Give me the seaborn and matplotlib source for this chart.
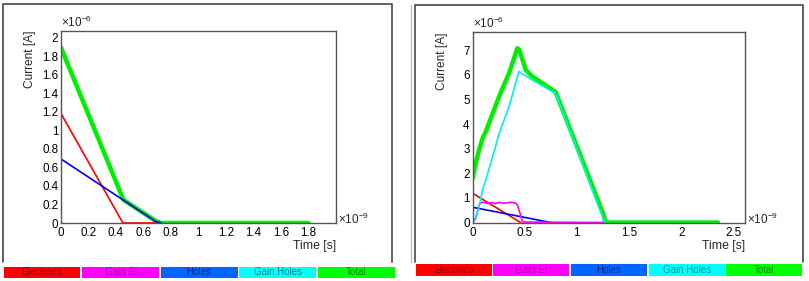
import matplotlib
matplotlib.use("Agg")
import numpy as np
import pandas as pd
import matplotlib.pyplot as plt
import seaborn as sns
from matplotlib.lines import Line2D
from matplotlib.patches import Rectangle
from matplotlib.ticker import MultipleLocator, FuncFormatter

# ---------------- data (time in 1e-9 s, current in 1e-6 A) ----------------
left_electrons_t = [0, 0.45, 0.72]
left_electrons_i = [1.18, 0.0, 0.0]
left_holes_t = [0, 0.69, 0.73]
left_holes_i = [0.69, 0.015, 0.0]
left_total_t = [0, 0.454, 0.69, 0.73, 1.8]
left_total_i = [1.89, 0.25, 0.02, 0.0, 0.0]

right_electrons_t = [0, 0.46]
right_electrons_i = [1.19, 0.0]
right_gainel_t = [0, 0.03, 0.07, 0.10, 0.14, 0.18, 0.22, 0.26, 0.29, 0.33, 0.37, 0.41, 0.43, 0.48, 1.25]
right_gainel_i = [0, 0.15, 0.80, 0.82, 0.78, 0.81, 0.77, 0.82, 0.78, 0.80, 0.82, 0.79, 0.72, 0.02, 0.0]
right_holes_t = [0, 0.75]
right_holes_i = [0.62, 0.0]
right_gainholes_t = [0, 0.03, 0.063, 0.096, 0.127, 0.191, 0.254, 0.35, 0.445, 0.493, 0.573, 0.796, 1.257, 1.273]
right_gainholes_i = [0, 0.2, 0.64, 1.32, 1.73, 2.65, 3.6, 4.71, 6.13, 6.0, 5.79, 5.25, 0.1, 0.0]
right_total_t = [0, 0.03, 0.063, 0.096, 0.127, 0.254, 0.35, 0.43, 0.45, 0.51, 0.573, 0.796, 1.257, 1.273, 2.35]
right_total_i = [1.78, 2.39, 2.95, 3.42, 3.69, 5.11, 6.07, 7.08, 7.0, 6.2, 5.93, 5.3, 0.3, 0.0, 0.0]

legend_labels = ["Electrons", "Gain El", "Holes", "Gain Holes", "Total"]

line_colors = {"Electrons": "#ff0000", "Gain El": "#ff00ff", "Holes": "#0000ee",
               "Gain Holes": "#00f0f0", "Total": "#00ee00"}
box_colors = ["#ff0000", "#ff00ff", "#0066ff", "#00ffff", "#00ff00"]
text_colors = ["#990000", "#990099", "#002288", "#008888", "#008800"]

sns.set_theme(style="white")
plt.rcParams["font.family"] = ["Liberation Sans", "DejaVu Sans"]
plt.rcParams["mathtext.fontset"] = "custom"
plt.rcParams["mathtext.rm"] = "Liberation Sans"
plt.rcParams["mathtext.it"] = "Liberation Sans"

W, H = 809, 281
fig = plt.figure(figsize=(W / 100, H / 100), dpi=100)
fig.patch.set_facecolor("white")


def fx(px):
    return px / W


def fy(py):
    return 1 - py / H


def panel(ax_box, series, xlim, ylim, xmaj, xmin, ymaj, ymin, xticks_max, time_y):
    l, t, r, b = ax_box
    ax = fig.add_axes([fx(l), fy(b), fx(r) - fx(l), fy(t) - fy(b)])
    for name, tt, ii, lw in series:
        df = pd.DataFrame({"t": tt, "I": ii})
        sns.lineplot(data=df, x="t", y="I", ax=ax, color=line_colors[name],
                     linewidth=lw, sort=False, estimator=None, legend=False)
    ax.set_xlim(*xlim)
    ax.set_ylim(*ylim)
    ax.set_xlabel("")
    ax.set_ylabel("")
    ax.xaxis.set_major_locator(MultipleLocator(xmaj))
    ax.xaxis.set_minor_locator(MultipleLocator(xmin))
    ax.yaxis.set_major_locator(MultipleLocator(ymaj))
    ax.yaxis.set_minor_locator(MultipleLocator(ymin))
    fmt = FuncFormatter(lambda v, p: "{:g}".format(round(v, 3)))
    ax.xaxis.set_major_formatter(fmt)
    ax.yaxis.set_major_formatter(fmt)
    ax.tick_params(axis="both", which="both", direction="in", colors="#333333",
                   labelcolor="black", labelsize=8.4, top=False, right=False)
    ax.tick_params(axis="x", which="major", length=7, width=0.9, pad=3)
    ax.tick_params(axis="x", which="minor", length=3.5, width=0.9)
    ax.tick_params(axis="y", which="major", length=7, width=0.9, pad=2)
    ax.tick_params(axis="y", which="minor", length=3.5, width=0.9)
    ax.set_xticks([v for v in ax.get_xticks() if v <= xticks_max + 1e-9 and v >= 0])
    for s in ax.spines.values():
        s.set_color("#555555")
        s.set_linewidth(1.0)
    # exponents
    fig.text(fx(l), fy(t) + 0.003, r"$\times$10$^{-6}$", fontsize=8.5, ha="left", va="bottom")
    fig.text(fx(r) + 0.002, fy(b) + 0.012, r"$\times$10$^{-9}$", fontsize=8.5, ha="left", va="center")
    # axis titles
    fig.text(fx(l - 31), fy(t), "Current [A]", rotation=90, fontsize=8.6, ha="center", va="top")
    fig.text(fx(r), fy(time_y), "Time [s]", fontsize=8.8, ha="right", va="center")
    return ax


panel((61, 31, 336, 223),
      [("Total", left_total_t, left_total_i, 3.2),
       ("Electrons", left_electrons_t, left_electrons_i, 1.2),
       ("Holes", left_holes_t, left_holes_i, 1.2)],
      (0, 2.0), (0, 2.07), 0.2, 0.05, 0.2, 0.05, 1.8, 245.5)

panel((472.5, 32, 745, 222.5),
      [("Total", right_total_t, right_total_i, 3.2),
       ("Electrons", right_electrons_t, right_electrons_i, 1.2),
       ("Holes", right_holes_t, right_holes_i, 1.2),
       ("Gain El", right_gainel_t, right_gainel_i, 1.2),
       ("Gain Holes", right_gainholes_t, right_gainholes_i, 1.2)],
      (0, 2.61), (0, 7.74), 0.5, 0.1, 1, 0.2, 2.5, 245.5)


def fline(xs, ys, color="#555555", lw=1.3):
    fig.add_artist(Line2D([fx(x) for x in xs], [fy(y) for y in ys], color=color,
                          linewidth=lw, transform=fig.transFigure))


# panel frames
fline([2.5, 2.5, 392, 392], [262, 4, 4, 262])
fline([415, 415, 803, 803], [262, 5, 5, 262])
fline([411, 411], [5, 262], color="#bbbbbb", lw=1.0)

# legend bars
for x0, x1, y0, y1 in [(2.7, 395.5, 267, 277.5), (415, 803, 264, 276)]:
    n = len(legend_labels)
    w = (x1 - x0) / n
    for k, lab in enumerate(legend_labels):
        bx0 = x0 + k * w + 0.8
        bx1 = x0 + (k + 1) * w - 0.8
        fig.add_artist(Rectangle((fx(bx0), fy(y1)), fx(bx1) - fx(bx0), fy(y0) - fy(y1),
                                 facecolor=box_colors[k], edgecolor="none",
                                 transform=fig.transFigure))
        fig.text(fx((bx0 + bx1) / 2), fy((y0 + y1) / 2), lab, fontsize=7,
                 color=text_colors[k], ha="center", va="center")

fig.savefig("out.png", dpi=100, facecolor="white")
